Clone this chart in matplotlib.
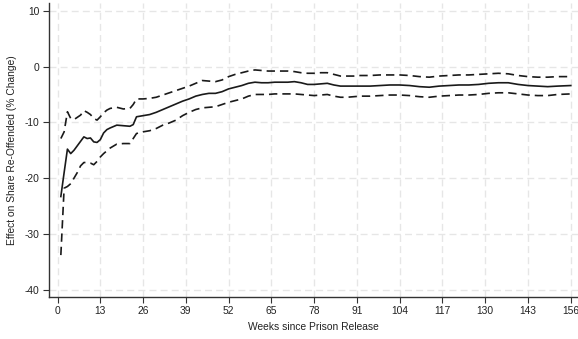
import matplotlib
matplotlib.use("Agg")
import matplotlib.pyplot as plt
from matplotlib import font_manager

plt.rcParams['font.family'] = ['Liberation Sans', 'DejaVu Sans']

installed = {f.name for f in font_manager.fontManager.ttflist}
tick_family = (['Liberation Sans Narrow', 'Liberation Sans']
               if 'Liberation Sans Narrow' in installed else ['Liberation Sans'])
tick_size = 8.6 if 'Liberation Sans Narrow' in installed else 7.4

weeks = [1, 2, 3, 4, 5, 6, 7, 8, 9, 10, 11, 12, 13, 14, 15, 16, 18, 20, 22, 23,
         24, 26, 28, 30, 32, 34, 36, 38, 40, 42, 44, 46, 48, 50, 52, 54, 56, 58,
         60, 62, 64, 66, 68, 70, 72, 74, 76, 78, 80, 82, 84, 86, 88, 90, 92, 95,
         98, 101, 104, 107, 110, 113, 116, 119, 122, 125, 128, 131, 134, 137,
         140, 143, 146, 149, 152, 156]

estimate = [-23.3, -19.0, -14.8, -15.6, -15.0, -14.2, -13.4, -12.6, -12.9, -12.8,
            -13.5, -13.6, -13.1, -11.9, -11.3, -11.0, -10.5, -10.6, -10.7, -10.4,
            -9.0, -8.8, -8.6, -8.2, -7.7, -7.2, -6.7, -6.2, -5.8, -5.3, -5.0, -4.8,
            -4.8, -4.5, -4.0, -3.7, -3.4, -3.0, -2.8, -2.9, -2.9, -2.8, -2.8, -2.8,
            -2.7, -2.9, -3.2, -3.2, -3.1, -3.0, -3.3, -3.5, -3.5, -3.5, -3.5, -3.5,
            -3.4, -3.3, -3.3, -3.4, -3.6, -3.7, -3.5, -3.4, -3.3, -3.3, -3.2, -3.0,
            -2.9, -2.9, -3.2, -3.4, -3.5, -3.6, -3.5, -3.4]

ci_upper = [-12.9, -11.7, -8.1, -9.3, -9.5, -9.1, -8.7, -7.9, -8.2, -8.6,
            -9.3, -9.6, -9.0, -8.3, -7.8, -7.5, -7.3, -7.6, -7.5, -6.8,
            -5.8, -5.8, -5.7, -5.5, -5.1, -4.7, -4.3, -3.9, -3.5, -3.0, -2.5, -2.6,
            -2.7, -2.4, -1.8, -1.4, -1.1, -0.8, -0.6, -0.7, -0.8, -0.8, -0.8, -0.8,
            -0.9, -1.1, -1.2, -1.2, -1.1, -1.1, -1.4, -1.7, -1.7, -1.7, -1.6, -1.6,
            -1.5, -1.5, -1.5, -1.6, -1.8, -1.9, -1.7, -1.6, -1.5, -1.5, -1.4, -1.3,
            -1.2, -1.3, -1.6, -1.8, -1.9, -1.9, -1.8, -1.8]

ci_lower = [-33.8, -21.8, -21.5, -21.0, -20.0, -19.0, -17.8, -17.2, -17.2, -17.3,
            -17.6, -17.0, -16.2, -15.6, -15.1, -14.6, -13.9, -13.8, -13.8, -12.9,
            -12.0, -11.7, -11.5, -11.1, -10.5, -10.1, -9.6, -8.8, -8.2, -7.7, -7.4,
            -7.3, -7.2, -6.8, -6.4, -6.1, -5.8, -5.3, -5.0, -5.0, -5.0, -4.9, -4.9,
            -4.9, -4.9, -5.0, -5.1, -5.2, -5.1, -5.0, -5.3, -5.5, -5.5, -5.4, -5.3,
            -5.3, -5.2, -5.1, -5.1, -5.2, -5.4, -5.5, -5.3, -5.2, -5.1, -5.1, -5.0,
            -4.8, -4.7, -4.7, -4.9, -5.1, -5.2, -5.2, -5.0, -4.9]

x_ticks = [0, 13, 26, 39, 52, 65, 78, 91, 104, 117, 130, 143, 156]
y_ticks = [10, 0, -10, -20, -30, -40]

fig = plt.figure(figsize=(5.78, 3.39), dpi=100)
ax = fig.add_axes([49 / 578, 1 - 296.7 / 339, 529 / 578, (296.7 - 3) / 339])

line_color = '#1a1a1a'
ax.plot(weeks, estimate, color=line_color, lw=1.2, solid_joinstyle='round')
ax.plot(weeks, ci_upper, color=line_color, lw=1.2, linestyle=(0, (5, 3)))
ax.plot(weeks, ci_lower, color=line_color, lw=1.2, linestyle=(0, (5, 3)))

ax.set_xlim(-2.6, 158.2)
ax.set_ylim(-41.26, 11.4)
ax.set_xticks(x_ticks)
ax.set_yticks(y_ticks)
ax.set_xticklabels([str(t) for t in x_ticks], family=tick_family, size=tick_size)
ax.set_yticklabels([str(t) for t in y_ticks], family=tick_family, size=tick_size)

ax.grid(True, color='#e6e6e6', linestyle=(0, (5, 3)), lw=1.0)
ax.set_axisbelow(True)

for side in ('top', 'right'):
    ax.spines[side].set_visible(False)
for side in ('left', 'bottom'):
    ax.spines[side].set_color('#333333')
    ax.spines[side].set_linewidth(1.0)

ax.tick_params(axis='both', direction='out', length=4, width=0.8,
               color='#333333', labelcolor='#222222', pad=3)

ax.set_xlabel('Weeks since Prison Release', fontsize=7.4, color='#222222', labelpad=4)
ax.set_ylabel('Effect on Share Re-Offended (% Change)', fontsize=7.4,
              color='#222222', labelpad=5)

fig.savefig('out.png', dpi=100)
